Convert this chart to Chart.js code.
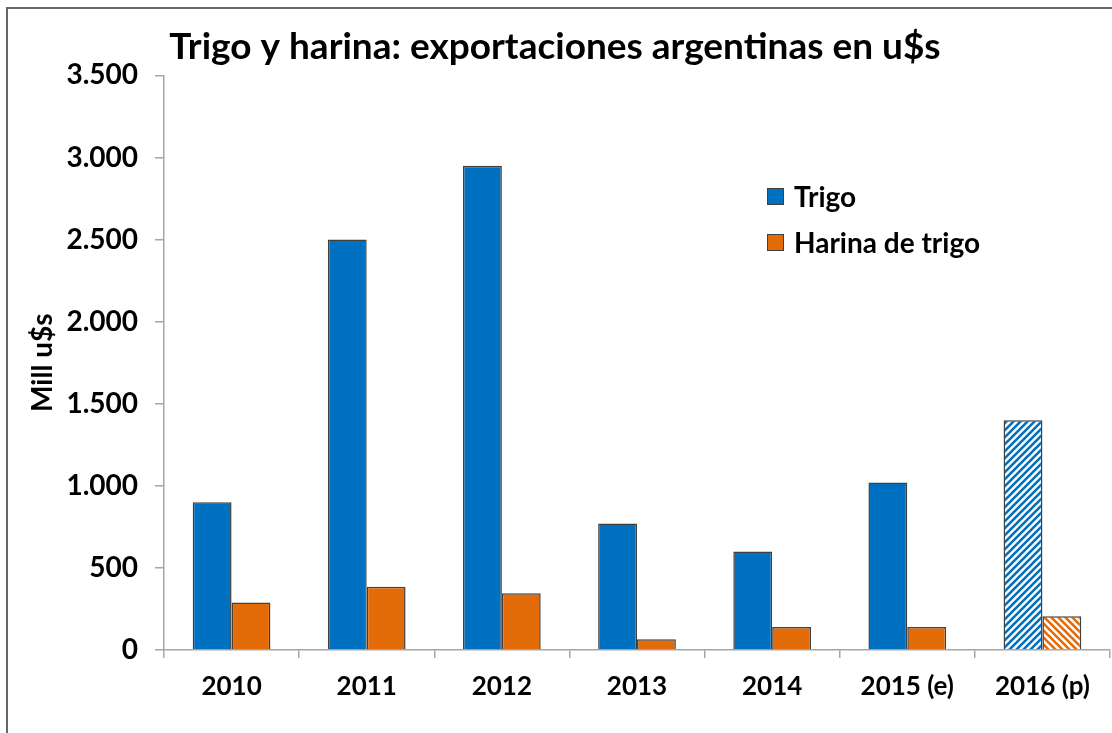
<!DOCTYPE html>
<html>
<head>
<meta charset="utf-8">
<script src="https://cdn.jsdelivr.net/npm/chart.js@4"></script>
<style>
    body { margin: 0; background: #fff; }
    .wrap { position: relative; width: 1112px; height: 733px; overflow: hidden; }
    .frame { position: absolute; left: 6px; top: 7px; width: 1200px; height: 800px; border: 2px solid #666; pointer-events: none; }
    canvas { position: absolute; left: 0; top: 0; }
    .legend { position: absolute; left: 767px; top: 173px; font: bold 28px Lato, sans-serif; color: #000; list-style: none; margin: 0; padding: 0; }
    .legend li { display: flex; align-items: center; height: 46px; }
    .legend span { display: inline-block; width: 15px; height: 15px; border: 1.5px solid #404040; margin-right: 10px; }
</style>
</head>
<body>
<div class="wrap">
    <canvas id="export-chart" width="1112" height="733"></canvas>
    <div class="frame"></div>
    <ul class="legend" id="legend"></ul>
</div>
<script>
// Data
const years = ["2010", "2011", "2012", "2013", "2014", "2015 (e)", "2016 (p)"];
const trigo = [900, 2500, 2950, 770, 600, 1020, 1400];
const harina = [290, 385, 345, 65, 140, 140, 205];
const yTicks = [0, 500, 1000, 1500, 2000, 2500, 3000, 3500];

const blue = "#0070C0";
const orange = "#E36C09";

// Hatch pattern for the projected year
function hatch(color, forward) {
    const size = 7;
    const c = document.createElement("canvas");
    c.width = size;
    c.height = size;
    const ctx = c.getContext("2d");
    ctx.fillStyle = "#fff";
    ctx.fillRect(0, 0, size, size);
    ctx.strokeStyle = color;
    ctx.lineWidth = 2.6;
    ctx.beginPath();
    if (forward) {
        ctx.moveTo(-1, size + 1); ctx.lineTo(size + 1, -1);
        ctx.moveTo(-1, 1); ctx.lineTo(1, -1);
        ctx.moveTo(size - 1, size + 1); ctx.lineTo(size + 1, size - 1);
    } else {
        ctx.moveTo(-1, -1); ctx.lineTo(size + 1, size + 1);
        ctx.moveTo(size - 1, -1); ctx.lineTo(size + 1, 1);
        ctx.moveTo(-1, size - 1); ctx.lineTo(1, size + 1);
    }
    ctx.stroke();
    return document.createElement("canvas").getContext("2d").createPattern(c, "repeat");
}

const blueFill = years.map((y, i) => i === years.length - 1 ? hatch(blue, true) : blue);
const orangeFill = years.map((y, i) => i === years.length - 1 ? hatch(orange, false) : orange);

const exportData = {
    labels: years,
    datasets: [{
        label: "Trigo",
        data: trigo,
        backgroundColor: blueFill,
        borderColor: "#404040",
        borderWidth: 1.5,
        solid: blue
    }, {
        label: "Harina de trigo",
        data: harina,
        backgroundColor: orangeFill,
        borderColor: "#404040",
        borderWidth: 1.5,
        solid: orange
    }]
};

const xFont = { family: "Lato", size: 26, weight: "bold" };
const yFont = { family: "Lato", size: 28, weight: "bold" };
const axisColor = "#A6A6A6";

const exportOptions = {
    responsive: false,
    animation: { duration: 0 },
    layout: { padding: { left: 0, right: 2, top: 0, bottom: 0 } },
    datasets: {
        bar: { categoryPercentage: 0.575, barPercentage: 1 }
    },
    scales: {
        x: {
            grid: { display: true, drawOnChartArea: false, offset: true, color: axisColor, lineWidth: 1.5, tickLength: 8 },
            border: { color: axisColor, width: 1.5 },
            ticks: { color: "#000", font: xFont, padding: 13, maxRotation: 0 },
            afterFit: (scale) => { scale.height = 83; }
        },
        y: {
            min: 0,
            max: 3500,
            afterBuildTicks: (scale) => { scale.ticks = yTicks.map(v => ({ value: v })); },
            grid: { display: true, drawOnChartArea: false, color: axisColor, lineWidth: 1.5, tickLength: 9 },
            border: { color: axisColor, width: 1.5 },
            ticks: {
                color: "#000",
                font: yFont,
                padding: 17,
                callback: (v) => String(v).replace(/\B(?=(\d{3})+(?!\d))/g, ".")
            },
            title: {
                display: true,
                text: "Mill u$s",
                color: "#000",
                font: yFont,
                padding: { top: 26, bottom: 0 }
            },
            afterFit: (scale) => { scale.width = 164; }
        }
    },
    plugins: {
        legend: { display: false },
        tooltip: { enabled: false },
        title: {
            display: true,
            text: "Trigo y harina: exportaciones argentinas en u$s",
            color: "#000",
            font: { family: "Lato", size: 37, weight: "bold" },
            padding: { top: 25, bottom: 6 }
        }
    }
};

const exportCanvas = document.getElementById("export-chart");
let exportChart = new Chart(exportCanvas, {
    type: "bar",
    data: exportData,
    options: exportOptions
});

// Legend inside the plot
const legend = document.getElementById("legend");
legend.innerHTML = exportData.datasets
    .map(ds => `<li><span style="background:${ds.solid}"></span>${ds.label}</li>`)
    .join("");
</script>
</body>
</html>
